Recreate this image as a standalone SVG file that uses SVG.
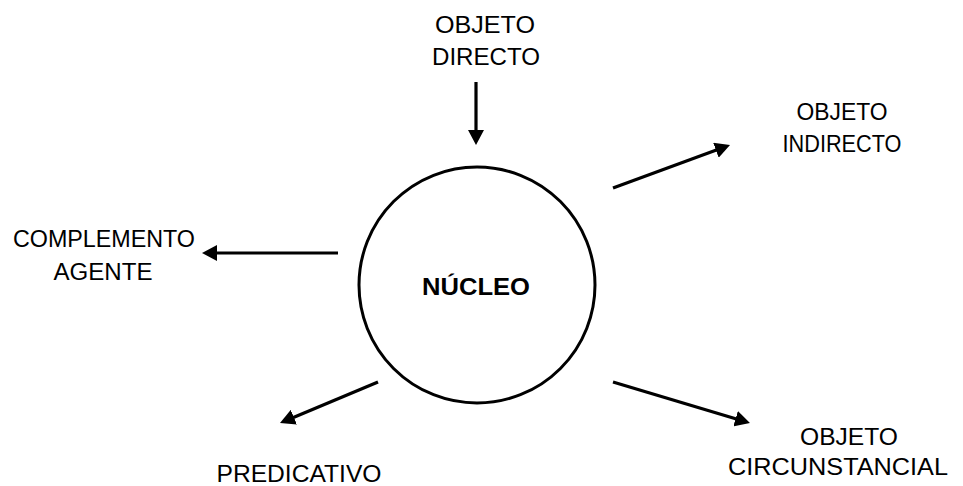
<svg xmlns="http://www.w3.org/2000/svg" width="963" height="486" viewBox="0 0 963 486">
<style>
.lbl{font-family:"Liberation Sans","DejaVu Sans",sans-serif;font-size:23px;text-anchor:middle;fill:#000}
.bold{font-weight:bold;font-size:24px}
.conn{stroke:#000;stroke-width:3.2;fill:none;marker-end:url(#ah)}
</style>
<defs>
<marker id="ah" markerUnits="userSpaceOnUse" markerWidth="16" markerHeight="16" refX="7" refY="8" orient="auto">
<path d="M0,0 L15,8 L0,16 z" fill="#000"/>
</marker>
</defs>
<rect width="963" height="486" fill="#fff"/>
<g id="connectors">
<line class="conn" x1="476" y1="82" x2="476" y2="137"/>
<line class="conn" x1="613" y1="188" x2="722.5" y2="147.8"/>
<line class="conn" x1="338" y1="253" x2="210" y2="253"/>
<line class="conn" x1="378" y1="382" x2="287.4" y2="419.9"/>
<line class="conn" x1="613" y1="382" x2="742.3" y2="420.7"/>
</g>
<g id="nucleo">
<circle cx="477" cy="285" r="118" fill="none" stroke="#000" stroke-width="3"/>
<text class="lbl bold" x="476" y="295" textLength="108" lengthAdjust="spacingAndGlyphs">NÚCLEO</text>
</g>
<g id="objeto-directo">
<text class="lbl" x="485" y="33" textLength="100" lengthAdjust="spacingAndGlyphs">OBJETO</text>
<text class="lbl" x="486" y="65" textLength="108" lengthAdjust="spacingAndGlyphs">DIRECTO</text>
</g>
<g id="objeto-indirecto">
<text class="lbl" x="842" y="120" textLength="91" lengthAdjust="spacingAndGlyphs">OBJETO</text>
<text class="lbl" x="842" y="152" textLength="119" lengthAdjust="spacingAndGlyphs">INDIRECTO</text>
</g>
<g id="complemento-agente">
<text class="lbl" x="104" y="247" textLength="182" lengthAdjust="spacingAndGlyphs">COMPLEMENTO</text>
<text class="lbl" x="103" y="280" textLength="99" lengthAdjust="spacingAndGlyphs">AGENTE</text>
</g>
<g id="predicativo">
<text class="lbl" x="299" y="482" textLength="165" lengthAdjust="spacingAndGlyphs">PREDICATIVO</text>
</g>
<g id="objeto-circunstancial">
<text class="lbl" x="849" y="445" textLength="98" lengthAdjust="spacingAndGlyphs">OBJETO</text>
<text class="lbl" x="838" y="475" textLength="220" lengthAdjust="spacingAndGlyphs">CIRCUNSTANCIAL</text>
</g>
</svg>
